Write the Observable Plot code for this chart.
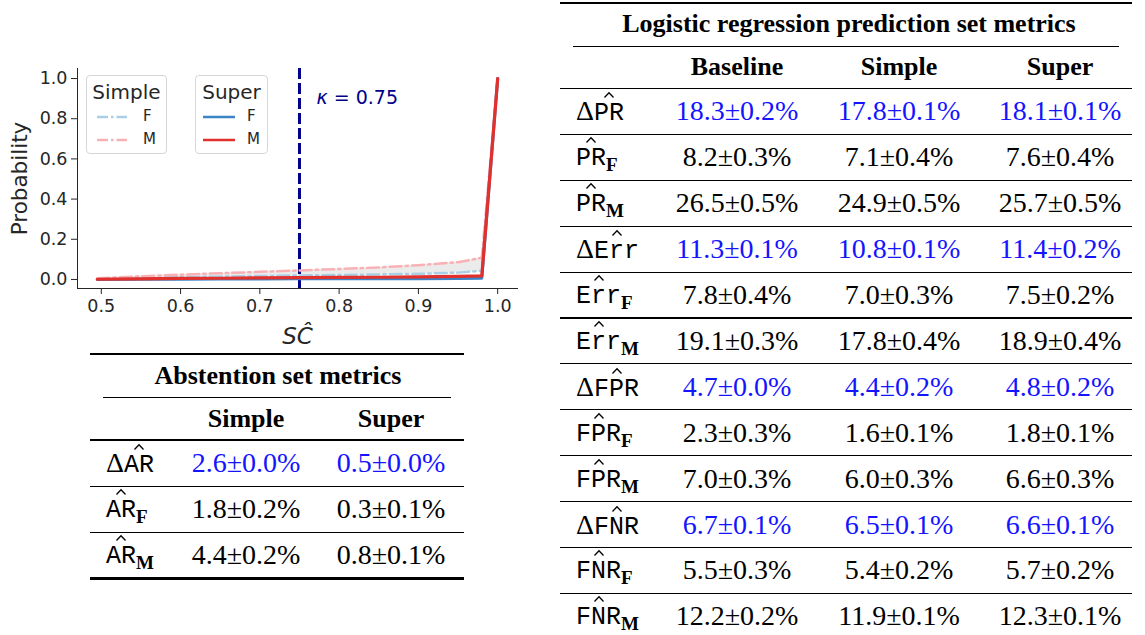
<!DOCTYPE html>
<html>
<head>
<meta charset="utf-8">
<script src="https://cdn.jsdelivr.net/npm/d3@7"></script>
<script src="https://cdn.jsdelivr.net/npm/@observablehq/plot@0.6"></script>
<style>
  html, body { margin: 0; padding: 0; background: #fff; }
  body { width: 1145px; height: 635px; position: relative; overflow: hidden; }
  #chart { position: absolute; left: 0; top: 0; }
  .legend { position: absolute; border: 1px solid #d6d6d6; border-radius: 4px; background: rgba(255,255,255,0.85);
            font-family: "DejaVu Sans", sans-serif; color: #262626; box-sizing: border-box; }
  .legend .ttl { position: absolute; left: 0; right: 0; text-align: center; font-size: 20px; line-height: 20px; top: 6px; }
  .legend .row { position: absolute; font-size: 15px; line-height: 15px; }
  .legend svg { position: absolute; overflow: visible; }
  .tbl { position: absolute; font-family: "Liberation Serif", serif; color: #000; }
  .tbl .rule { position: absolute; background: #000; }
  .tbl .cell { position: absolute; white-space: nowrap; text-align: center; }
  .tbl .title { font-weight: bold; font-size: 26px; }
  .tbl .head { font-weight: bold; font-size: 26px; }
  .tbl .num { font-size: 28px; }
  .tbl .num.hl { color: #1414ff; }
  .tbl .lab { text-align: left; font-size: 26px; }
  .lab .delta { font-family: "Liberation Serif", serif; font-size: 28px; }
  .lab .tt { font-family: "Liberation Mono", monospace; font-size: 25px; position: relative; display: inline-block; line-height: 28px; }
  .lab .tt svg { position: absolute; left: 50%; top: -8px; margin-left: -5px; overflow: visible; }
  .lab .sub { font-family: "Liberation Serif", serif; font-weight: bold; font-size: 19px; position: relative; top: 6px; }
</style>
</head>
<body>
<div id="chart"></div>
<div id="legends"></div>
<div id="abst" class="tbl"></div>
<div id="lr" class="tbl"></div>
<script>
// ---------------- chart data ----------------
const scGrid   = [0.495, 0.55, 0.60, 0.65, 0.70, 0.75, 0.80, 0.85, 0.90, 0.95, 0.98, 1.00];
const simpleF  = [0.002, 0.007, 0.011, 0.014, 0.017, 0.020, 0.022, 0.025, 0.028, 0.034, 0.043, 1.00];
const simpleM  = [0.006, 0.016, 0.024, 0.031, 0.038, 0.045, 0.052, 0.060, 0.071, 0.086, 0.108, 1.00];
const superF   = [0.000, 0.001, 0.001, 0.002, 0.002, 0.003, 0.003, 0.004, 0.004, 0.005, 0.006, 1.00];
const superM   = [0.001, 0.003, 0.005, 0.006, 0.008, 0.009, 0.010, 0.011, 0.013, 0.015, 0.018, 1.00];
const kappa = 0.75;
const xTicks = [0.5, 0.6, 0.7, 0.8, 0.9, 1.0];
const yTicks = [0.0, 0.2, 0.4, 0.6, 0.8, 1.0];
const seriesNames = ["Simple F", "Simple M", "Super F", "Super M"];
const seriesColors = ["#a9cfe6", "#f9b1b6", "#3b84c6", "#e2302d"];

// ---------------- table data ----------------
const absTitle = "Abstention set metrics";
const absCols = ["Simple", "Super"];
const absMetric = ["AR", "AR", "AR"];
const absGroup = [null, "F", "M"];
const absSimple = ["2.6±0.0%", "1.8±0.2%", "4.4±0.2%"];
const absSuper  = ["0.5±0.0%", "0.3±0.1%", "0.8±0.1%"];

const lrTitle = "Logistic regression prediction set metrics";
const lrCols = ["Baseline", "Simple", "Super"];
const lrMetric = ["PR", "PR", "PR", "Err", "Err", "Err", "FPR", "FPR", "FPR", "FNR", "FNR", "FNR"];
const lrGroup  = [null, "F", "M", null, "F", "M", null, "F", "M", null, "F", "M"];
const lrBaseline = ["18.3±0.2%", "8.2±0.3%", "26.5±0.5%", "11.3±0.1%", "7.8±0.4%", "19.1±0.3%", "4.7±0.0%", "2.3±0.3%", "7.0±0.3%", "6.7±0.1%", "5.5±0.3%", "12.2±0.2%"];
const lrSimple   = ["17.8±0.1%", "7.1±0.4%", "24.9±0.5%", "10.8±0.1%", "7.0±0.3%", "17.8±0.4%", "4.4±0.2%", "1.6±0.1%", "6.0±0.3%", "6.5±0.1%", "5.4±0.2%", "11.9±0.1%"];
const lrSuper    = ["18.1±0.1%", "7.6±0.4%", "25.7±0.5%", "11.4±0.2%", "7.5±0.2%", "18.9±0.4%", "4.8±0.2%", "1.8±0.1%", "6.6±0.3%", "6.6±0.1%", "5.7±0.2%", "12.3±0.1%"];

// ---------------- chart ----------------
const rows = scGrid.map((sc, i) => ({sc, simpleF: simpleF[i], simpleM: simpleM[i], superF: superF[i], superM: superM[i]}));
const dashDot = "12,4,2.5,4";
const chart = Plot.plot({
  width: 540, height: 350,
  marginLeft: 77, marginRight: 23, marginTop: 68, marginBottom: 62,
  style: {fontFamily: "DejaVu Sans, sans-serif", fontSize: "17.5px", color: "#262626", background: "transparent", overflow: "visible"},
  x: {domain: [0.47, 1.025], ticks: xTicks, tickFormat: ".1f", label: null, line: true, tickSize: 6, tickPadding: 5},
  y: {domain: [-0.045, 1.05], ticks: yTicks, tickFormat: ".1f", label: null, line: true, tickSize: 6, tickPadding: 4},
  marks: [
    Plot.areaY(rows, {x: "sc", y1: "simpleF", y2: "simpleM", fill: "#e4e4e4", fillOpacity: 0.75}),
    Plot.areaY(rows, {x: "sc", y1: "superF", y2: "superM", fill: "#e4e4e4", fillOpacity: 0.75}),
    Plot.ruleX([kappa], {stroke: "#00008b", strokeWidth: 3, strokeDasharray: "11,4"}),
    Plot.line(rows, {x: "sc", y: "simpleF", stroke: seriesColors[0], strokeWidth: 2.5, strokeDasharray: dashDot}),
    Plot.line(rows, {x: "sc", y: "simpleM", stroke: seriesColors[1], strokeWidth: 2.5, strokeDasharray: dashDot}),
    Plot.line(rows, {x: "sc", y: "superF", stroke: seriesColors[2], strokeWidth: 3}),
    Plot.line(rows, {x: "sc", y: "superM", stroke: seriesColors[3], strokeWidth: 3.2}),
    Plot.text([kappa], {x: d => d, frameAnchor: "top", dy: 22, dx: 17, textAnchor: "start", text: d => `κ = ${d}`, fill: "#00008b", fontSize: 19}),
    Plot.text(["Probability"], {frameAnchor: "left", rotate: -90, dx: -57, textAnchor: "middle", text: d => d, fontSize: 21.5, fill: "#262626"}),
    Plot.text(["SC"], {frameAnchor: "bottom", dy: 55, textAnchor: "middle", text: d => "S" + "C\u0302", fontSize: 23, fontStyle: "italic", fill: "#262626"})
  ]
});
// italic kappa, upright rest (matplotlib mathtext style)
chart.querySelectorAll("text").forEach(t => {
  if (t.textContent.startsWith("κ")) {
    const rest = t.textContent.slice(1);
    t.textContent = "";
    const a = document.createElementNS("http://www.w3.org/2000/svg", "tspan");
    a.setAttribute("font-style", "italic"); a.textContent = "κ";
    const b = document.createElementNS("http://www.w3.org/2000/svg", "tspan");
    b.textContent = rest;
    t.appendChild(a); t.appendChild(b);
  }
});
document.getElementById("chart").appendChild(chart);

// ---------------- legends ----------------
function makeLegend(title, names, colors, dashed, box, sw, labX) {
  const div = document.createElement("div");
  div.className = "legend";
  Object.assign(div.style, {left: box[0] + "px", top: box[1] + "px", width: box[2] + "px", height: box[3] + "px"});
  const t = document.createElement("div"); t.className = "ttl"; t.textContent = title; div.appendChild(t);
  names.forEach((n, i) => {
    const cy = 41 + i * 23;
    const svg = document.createElementNS("http://www.w3.org/2000/svg", "svg");
    svg.setAttribute("width", sw[1] - sw[0]); svg.setAttribute("height", 6);
    svg.style.left = sw[0] + "px"; svg.style.top = (cy - 3) + "px";
    const l = document.createElementNS("http://www.w3.org/2000/svg", "line");
    l.setAttribute("x1", 0); l.setAttribute("x2", sw[1] - sw[0]); l.setAttribute("y1", 3); l.setAttribute("y2", 3);
    l.setAttribute("stroke", colors[i]); l.setAttribute("stroke-width", 2.5);
    if (dashed) l.setAttribute("stroke-dasharray", "11,3,2.5,3");
    svg.appendChild(l); div.appendChild(svg);
    const r = document.createElement("div"); r.className = "row"; r.textContent = n;
    r.style.left = labX + "px"; r.style.top = (cy - 8) + "px";
    div.appendChild(r);
  });
  document.getElementById("legends").appendChild(div);
}
makeLegend("Simple", ["F", "M"], seriesColors.slice(0, 2), true, [86, 75, 81, 79], [10, 40], 56);
makeLegend("Super", ["F", "M"], seriesColors.slice(2, 4), false, [195, 75, 73, 79], [7, 39], 51);

// ---------------- tables ----------------
function addRule(el, x0, x1, y, th) {
  const r = document.createElement("div"); r.className = "rule";
  Object.assign(r.style, {left: x0 + "px", width: (x1 - x0) + "px", top: (y - th / 2) + "px", height: th + "px"});
  el.appendChild(r);
}
function addCell(el, cls, html, cx, cy, w, align) {
  const c = document.createElement("div"); c.className = "cell " + cls;
  c.innerHTML = html;
  const h = 40;
  Object.assign(c.style, {top: (cy - h / 2) + "px", height: h + "px", lineHeight: h + "px"});
  if (align === "left") { c.style.left = cx + "px"; c.style.textAlign = "left"; }
  else { c.style.left = (cx - w / 2) + "px"; c.style.width = w + "px"; }
  el.appendChild(c);
}
const hatSVG = '<svg width="10" height="6" viewBox="0 0 10 6"><polyline points="0.5,5.5 5,0.8 9.5,5.5" fill="none" stroke="#000" stroke-width="1.3"/></svg>';
function labelHTML(metric, group) {
  let s = "";
  if (!group) s += '<span class="delta">Δ</span>';
  s += '<span class="tt">' + metric + hatSVG + '</span>';
  if (group) s += '<span class="sub">' + group + '</span>';
  return s;
}
function buildTable(el, spec) {
  const {x0, x1, top, cmid, title, titleCx, cols, colCx, metric, group, values, pitch, labX} = spec;
  addRule(el, x0, x1, top, 2.2);
  addCell(el, "title", title, titleCx, top + pitch * 0.47, 600);
  addRule(el, cmid[0], cmid[1], top + pitch * 0.95, 1.1);
  cols.forEach((c, j) => addCell(el, "head", c, colCx[j], top + pitch * 1.4, 200));
  const headRule = top + pitch * 1.87;
  addRule(el, x0, x1, headRule, 1.6);
  metric.forEach((m, i) => {
    const cy = headRule + pitch * (i + 0.5);
    addCell(el, "lab", labelHTML(m, group[i]), labX, cy, 0, "left");
    values.forEach((col, j) => addCell(el, "num" + (group[i] ? "" : " hl"), col[i], colCx[j], cy, 200));
    if (i < metric.length - 1) addRule(el, x0, x1, headRule + pitch * (i + 1), 1.1);
    else if (spec.bottom) addRule(el, x0, x1, headRule + pitch * (i + 1), 2.2);
  });
}
buildTable(document.getElementById("abst"), {
  x0: 90, x1: 464, top: 354, cmid: [103, 451], title: absTitle, titleCx: 278,
  cols: absCols, colCx: [246, 391], metric: absMetric, group: absGroup, values: [absSimple, absSuper],
  pitch: 46.1, labX: 106, bottom: true
});
buildTable(document.getElementById("lr"), {
  x0: 560, x1: 1132, top: 2.7, cmid: [573, 1119], title: lrTitle, titleCx: 849,
  cols: lrCols, colCx: [737, 899, 1060], metric: lrMetric, group: lrGroup, values: [lrBaseline, lrSimple, lrSuper],
  pitch: 45.9, labX: 576, bottom: true
});
</script>
</body>
</html>
